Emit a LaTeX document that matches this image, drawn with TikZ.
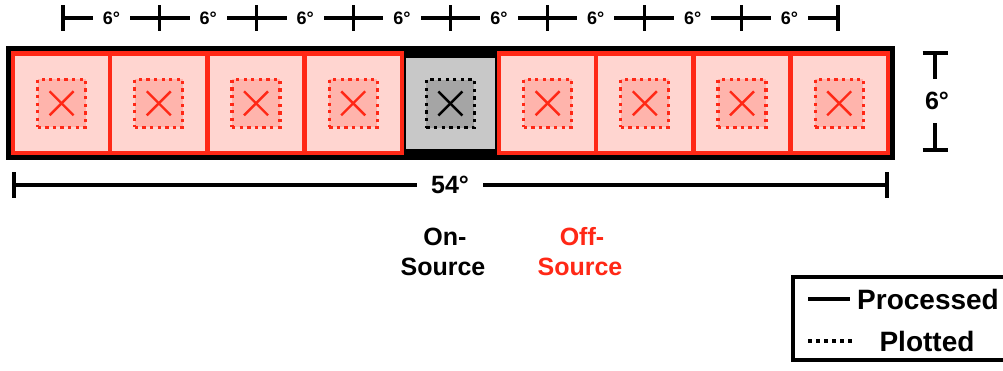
\documentclass[tikz,border=0pt]{standalone}
\usepackage{fontspec}
\setmainfont{Liberation Sans}
\definecolor{cred}{RGB}{255,40,22}
\definecolor{cpink}{RGB}{255,213,208}
\definecolor{cpinkin}{RGB}{255,180,172}
\definecolor{cgray}{RGB}{200,200,200}
\definecolor{cgrayin}{RGB}{165,165,165}
\begin{document}
\begin{tikzpicture}[x=1pt,y=-1pt,
  offcell/.style={draw=cred,fill=cpink,line width=4.5pt,minimum width=97.2pt,minimum height=99.5pt,inner sep=0pt},
  oncell/.style={draw=black,fill=cgray,line width=1pt,minimum width=90pt,minimum height=92pt,inner sep=0pt},
  offin/.style={draw=cred,fill=cpinkin,line width=3.3pt,dash pattern=on 3.3pt off 4.3pt,minimum size=48pt,inner sep=0pt},
  onin/.style={draw=black,fill=cgrayin,line width=3.3pt,dash pattern=on 3.3pt off 4.3pt,minimum size=48pt,inner sep=0pt},
  crossred/.style={draw=cred,line width=2.4pt},
  crossblack/.style={draw=black,line width=2.4pt},
  dimline/.style={draw=black,line width=3.2pt},
  smalllab/.style={font=\fontsize{18}{21}\selectfont\bfseries,fill=white,inner xsep=10pt,inner ysep=2pt},
  biglab/.style={font=\fontsize{25}{30}\selectfont\bfseries,inner sep=0pt},
  leglab/.style={font=\fontsize{28}{33}\selectfont\bfseries,inner sep=0pt}]
\useasboundingbox[fill=white] (0,0) rectangle (1003,370);
% outer black frame
\fill[black] (6,46) rectangle (895,160);
% off-source cells
\foreach \i in {0,1,2,3,5,6,7,8} {
  \node[offcell] (c\i) at ({61.6+97.2*\i},103.3) {};
}
\foreach \i in {0,1,2,3,5,6,7,8} {
  \node[offin] (d\i) at (c\i) {};
  \draw[crossred] (d\i.center) ++(-12,-12) -- ++(24,24);
  \draw[crossred] (d\i.center) ++(-12,12) -- ++(24,-24);
}
% on-source cell
\node[oncell] (c4) at (450.4,103.5) {};
\node[onin] (d4) at (c4) {};
\draw[crossblack] (d4.center) ++(-12,-12) -- ++(24,24);
\draw[crossblack] (d4.center) ++(-12,12) -- ++(24,-24);
% top dimension
\foreach \k in {0,...,8} \coordinate (t\k) at ({63+96.875*\k},18);
\draw[dimline] (t0) -- (t8);
\foreach \k in {0,...,8} \draw[dimline] (t\k) ++(0,-13) -- ++(0,26);
\foreach \k [evaluate=\k as \j using int(\k+1)] in {0,...,7}
  \path (t\k) -- (t\j) node[midway,smalllab] (l\k) {6°};
% bottom dimension
\coordinate (bL) at (14,185);
\coordinate (bR) at (887,185);
\draw[dimline] (bL) -- (bR);
\draw[dimline] (bL) ++(0,-13) -- ++(0,26);
\draw[dimline] (bR) ++(0,-13) -- ++(0,26);
\node[biglab,fill=white,inner xsep=14pt,inner ysep=3pt] (w54) at (450,185) {54°};
% right dimension
\coordinate (vT) at (935,53);
\coordinate (vB) at (935,150);
\draw[dimline] (vT) -- (vB);
\draw[dimline] (vT) ++(-12.5,0) -- ++(25,0);
\draw[dimline] (vB) ++(-12.5,0) -- ++(25,0);
\node[biglab,fill=white,inner xsep=4pt,inner ysep=13pt] (h6) at (937,101) {6°};
% source labels
\node[biglab,anchor=base] (on1) at (445,245) {On-};
\node[biglab,anchor=base] (on2) at (443,275) {Source};
\node[biglab,anchor=base,text=cred] (off1) at (582,245) {Off-};
\node[biglab,anchor=base,text=cred] (off2) at (580,275) {Source};
% legend
\draw[line width=3.8pt] (1012,277) -- (793,277) -- (793,360) -- (1012,360);
\coordinate (ls1) at (808,299);
\coordinate (ls2) at (850,299);
\draw[line width=3.8pt] (ls1) -- (ls2);
\node[leglab,anchor=west] (proc) at (857,299) {Processed};
\coordinate (ld1) at (808,341);
\coordinate (ld2) at (852,341);
\draw[line width=3.8pt,dash pattern=on 3.5pt off 4.5pt] (ld1) -- (ld2);
\node[leglab] (plot) at (927,341) {Plotted};
\end{tikzpicture}
\end{document}
